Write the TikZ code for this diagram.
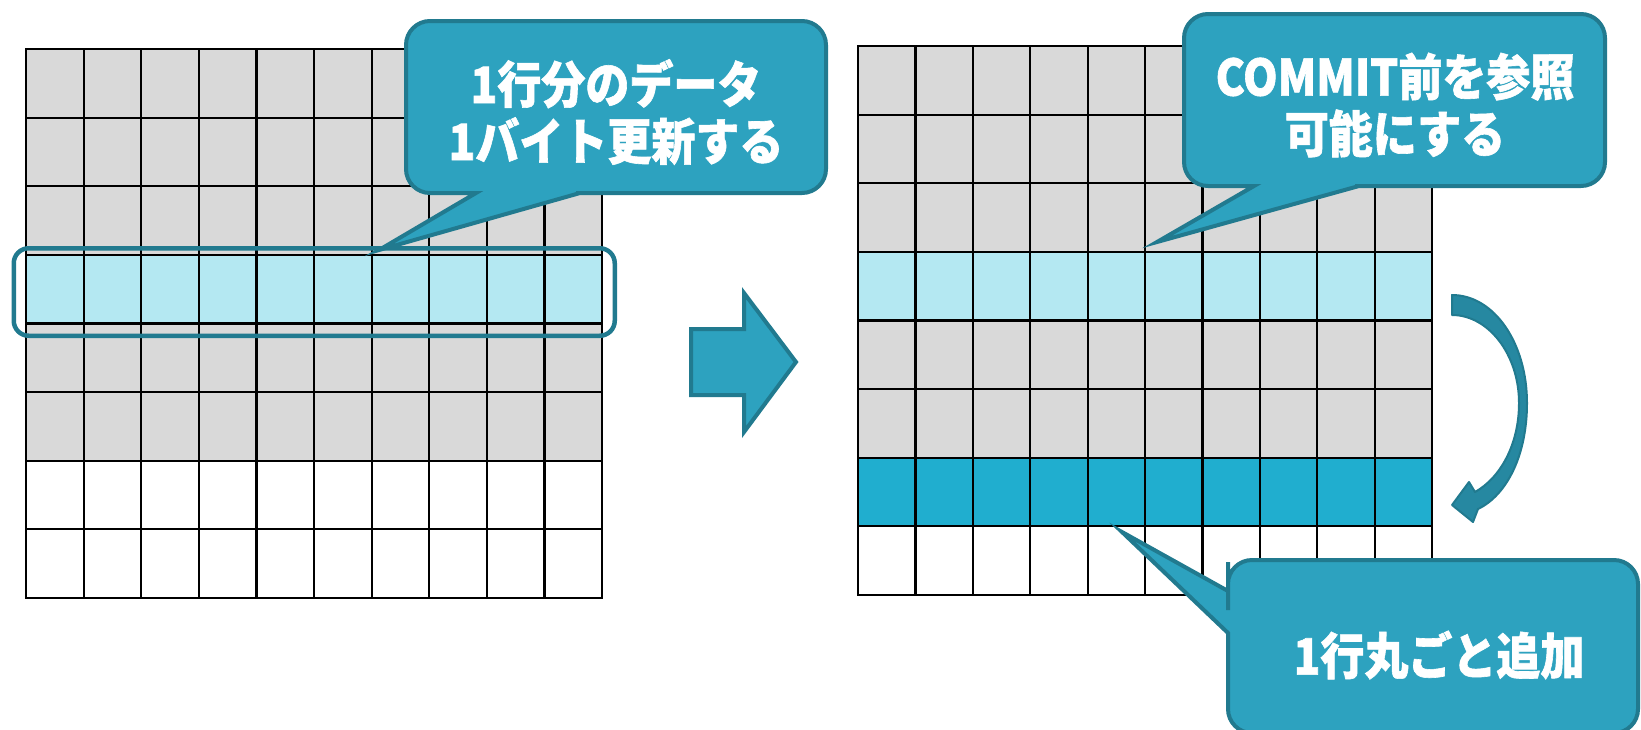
\documentclass[tikz,border=0pt]{standalone}
\usepackage{fontspec}
\newfontfamily\jpfont[FakeStretch=0.88,FakeBold=1.2]{Noto Sans CJK JP}
\definecolor{cellgray}{HTML}{D9D9D9}
\definecolor{cellpale}{HTML}{B4E8F2}
\definecolor{celldeep}{HTML}{20AECF}
\definecolor{notefill}{HTML}{2DA2BF}
\definecolor{noteline}{HTML}{217A8F}
\definecolor{bendfill}{HTML}{2688A1}

\tikzset{
  gridline/.style={draw=black, line width=2.2pt, line cap=rect},
  callout/.style={fill=notefill, draw=noteline, line width=4pt},
  notetext/.style={text=white, align=center, font=\jpfont\bfseries\fontsize{50}{57}\selectfont},
  rowframe/.style={draw=noteline, line width=4.5pt, rounded corners=15pt, minimum width=601pt, minimum height=87.5pt, inner sep=0pt},
  blockarrow/.style={fill=notefill, draw=noteline, line width=4pt},
  bendarrow/.style={fill=bendfill, draw=noteline, line width=2pt, line join=round}
}

\begin{document}
\begin{tikzpicture}[x=1pt,y=-1pt]
\useasboundingbox (0,0) rectangle (1641,729);

% table before
\begin{scope}[shift={(26,49)}]
\foreach \r/\c in {0/cellgray,1/cellgray,2/cellgray,3/cellpale,4/cellgray,5/cellgray,6/white,7/white}
  \fill[\c] (0,\r*68.625) rectangle (576,\r*68.625+68.625);
\foreach \i in {0,...,10}
  \draw[gridline] (\i*57.6,0) -- (\i*57.6,549);
\foreach \j in {0,...,8}
  \draw[gridline] (0,\j*68.625) -- (576,\j*68.625);
\end{scope}

% table after
\begin{scope}[shift={(858,46)}]
\foreach \r/\c in {0/cellgray,1/cellgray,2/cellgray,3/cellpale,4/cellgray,5/cellgray,6/celldeep,7/white}
  \fill[\c] (0,\r*68.625) rectangle (574,\r*68.625+68.625);
\foreach \i in {0,...,10}
  \draw[gridline] (\i*57.4,0) -- (\i*57.4,549);
\foreach \j in {0,...,8}
  \draw[gridline] (0,\j*68.625) -- (574,\j*68.625);
\end{scope}

\node[rowframe] (selrow) at (314.25,292) {};

% big arrow
\draw[blockarrow] (691,329) -- (744,329) -- (744,293) -- (796,362) -- (744,432) -- (744,395) -- (691,395) -- cycle;

% curved arrow
\draw[bendarrow] (1452,295) .. controls (1494,295) and (1527,343) .. (1527,403)
  .. controls (1527,455) and (1507,495) .. (1478,509) -- (1473,522) -- (1452,505)
  -- (1469,482) -- (1475,492) .. controls (1500,478) and (1519,445) .. (1519,403)
  .. controls (1519,354) and (1488,315) .. (1452,315) -- cycle;

% callouts
\draw[callout] (826,107) [rounded corners=24pt] -- (826,193) -- (600,193)
  [sharp corners] -- (580,193) -- (379,250) -- (476,193) -- (456,193)
  [rounded corners=24pt] -- (406,193) -- (406,21) -- (826,21) -- cycle;
\node[notetext] (noteA) at (616,112) {1行分のデータ\\1バイト更新する};

\draw[callout] (1605,100) [rounded corners=24pt] -- (1605,186) -- (1379,186)
  [sharp corners] -- (1359,186) -- (1157,242) -- (1254,186) -- (1234,186)
  [rounded corners=24pt] -- (1184,186) -- (1184,14) -- (1605,14) -- cycle;
\node[notetext] (noteB) at (1395,105) {COMMIT前を参照\\可能にする};

\draw[callout] (1430,560) [rounded corners=24pt] -- (1228,560) -- (1228,586)
  [sharp corners] -- (1228,591) -- (1122,532) -- (1228,633) -- (1228,640)
  [rounded corners=24pt] -- (1228,733) -- (1638,733) -- (1638,560) -- cycle;
\node[notetext] (noteC) at (1439,655) {1行丸ごと追加};

\end{tikzpicture}
\end{document}
